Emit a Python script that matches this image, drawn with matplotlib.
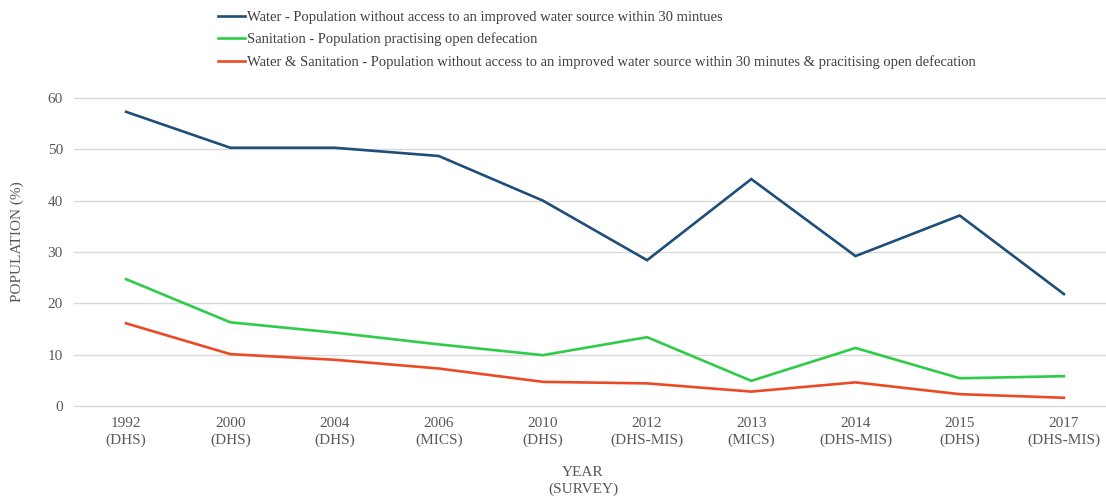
import matplotlib.pyplot as plt

plt.rcParams['font.family'] = ['Liberation Serif', 'DejaVu Serif']

years = ['1992\n(DHS)', '2000\n(DHS)', '2004\n(DHS)', '2006\n(MICS)', '2010\n(DHS)',
         '2012\n(DHS-MIS)', '2013\n(MICS)', '2014\n(DHS-MIS)', '2015\n(DHS)', '2017\n(DHS-MIS)']
water = [57.3, 50.3, 50.3, 48.7, 40.0, 28.4, 44.2, 29.2, 37.1, 21.8]
sanitation = [24.7, 16.3, 14.3, 12.0, 9.9, 13.4, 4.9, 11.3, 5.4, 5.8]
water_sanitation = [16.1, 10.1, 9.0, 7.3, 4.7, 4.4, 2.8, 4.6, 2.3, 1.6]

labels = [
    'Water - Population without access to an improved water source within 30 mintues',
    'Sanitation - Population practising open defecation',
    'Water & Sanitation - Population without access to an improved water source within 30 minutes & pracitising open defecation',
]
colores = ['#1f4e79', '#2ecc48', '#ea4a26']
gris = '#595959'

fig = plt.figure(figsize=(11.06, 4.96), dpi=100)
ax = fig.add_axes([74 / 1106, 0.1815, 1042 / 1106, 0.6210])

x = list(range(len(years)))
for serie, lab, c in zip([water, sanitation, water_sanitation], labels, colores):
    ax.plot(x, serie, color=c, lw=1.9, label=lab, solid_joinstyle='miter')

ax.set_xlim(-0.5, len(years) - 0.5)
ax.set_ylim(0, 60)
ax.set_yticks(range(0, 61, 10))
ax.set_xticks(x)
ax.set_xticklabels(years, fontsize=11, color=gris, linespacing=1.3)
ax.tick_params(axis='y', labelsize=11, labelcolor=gris, length=0, pad=8)
ax.tick_params(axis='x', length=0, pad=8)
ax.grid(axis='y', color='#d9d9d9', lw=1)
for gl in ax.get_ygridlines():
    gl.set_clip_on(False)
ax.set_axisbelow(True)
for s in ax.spines.values():
    s.set_visible(False)

fig.text(17 / 1106, 1 - 242 / 496, 'POPULATION (%)', rotation=90, fontsize=11,
         color=gris, ha='center', va='center')
fig.text(583 / 1106, 1 - 481 / 496, 'YEAR\n(SURVEY)', fontsize=11, color=gris,
         ha='center', va='center', linespacing=1.25)

leg = fig.legend(loc='upper left', bbox_to_anchor=(205 / 1106, 1.005), frameon=False,
                 fontsize=10.5, handlelength=1.85, handletextpad=0.15, labelspacing=0.6)
for t in leg.get_texts():
    t.set_color('#404040')

fig.savefig('out.png', dpi=100)
